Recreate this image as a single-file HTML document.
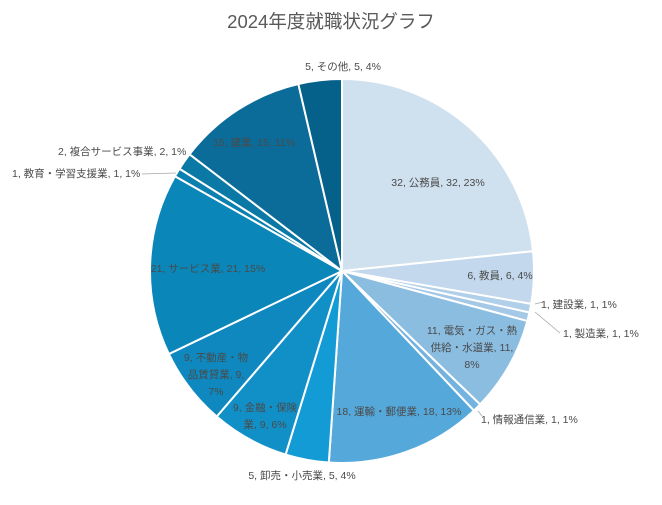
<!DOCTYPE html>
<html><head><meta charset="utf-8"><style>
body{margin:0;background:#fff;width:662px;height:500px;overflow:hidden}
svg text{font-family:"Liberation Sans","Noto Sans CJK JP",sans-serif;fill:#4a4a4a;font-size:10.5px}
</style></head><body>
<svg id="s" width="662" height="500" xmlns="http://www.w3.org/2000/svg">
<text x="331" y="28" text-anchor="middle" style="font-size:18.5px;fill:#595959">2024年度就職状況グラフ</text>
<g id="p"></g>
<g stroke="#a6a6a6" stroke-width="0.8" fill="none">
<polyline points="535,304 543,302"/>
<polyline points="535,312 560,333"/>
<polyline points="478,411 482,416"/>
<polyline points="176,173 142,174"/>
</g>
<text x="343" y="70" text-anchor="middle">5, その他, 5, 4%</text>
<text x="438" y="186" text-anchor="middle">32, 公務員, 32, 23%</text>
<text x="500" y="279" text-anchor="middle">6, 教員, 6, 4%</text>
<text x="541" y="308">1, 建設業, 1, 1%</text>
<text x="563" y="337">1, 製造業, 1, 1%</text>
<text x="472" y="334" text-anchor="middle">11, 電気・ガス・熱</text>
<text x="472" y="351" text-anchor="middle">供給・水道業, 11,</text>
<text x="472" y="368" text-anchor="middle">8%</text>
<text x="481" y="423">1, 情報通信業, 1, 1%</text>
<text x="399" y="415" text-anchor="middle">18, 運輸・郵便業, 18, 13%</text>
<text x="302" y="479" text-anchor="middle">5, 卸売・小売業, 5, 4%</text>
<text x="265" y="411" text-anchor="middle">9, 金融・保険</text>
<text x="265" y="428" text-anchor="middle">業, 9, 6%</text>
<text x="216" y="361" text-anchor="middle">9, 不動産・物</text>
<text x="216" y="378" text-anchor="middle">品賃貸業, 9,</text>
<text x="216" y="395" text-anchor="middle">7%</text>
<text x="208" y="272" text-anchor="middle">21, サービス業, 21, 15%</text>
<text x="12" y="177">1, 教育・学習支援業, 1, 1%</text>
<text x="58" y="155">2, 複合サービス事業, 2, 1%</text>
<text x="254" y="146" text-anchor="middle">15, 建業, 15, 11%</text>
</svg>
<script>
var d=[[32,"#cfe0ef"],[6,"#c3d8ec"],[1,"#b0cfe8"],[1,"#a4c8e6"],[11,"#8bbde1"],[1,"#74b3df"],[18,"#55a8da"],[5,"#129bd5"],[9,"#1190c8"],[9,"#0e88be"],[21,"#0b86b8"],[1,"#0a80b0"],[2,"#0a79a6"],[15,"#0b6c99"],[5,"#05608a"]];
var cx=342,cy=271,r=192,t=0,a=0,g=document.getElementById("p"),h="";
d.forEach(function(x){t+=x[0]});
d.forEach(function(x){var b=a+x[0]/t*2*Math.PI;
var x1=cx+r*Math.sin(a),y1=cy-r*Math.cos(a),x2=cx+r*Math.sin(b),y2=cy-r*Math.cos(b);
h+='<path d="M'+cx+','+cy+'L'+x1+','+y1+'A'+r+','+r+' 0 '+((b-a)>Math.PI?1:0)+' 1 '+x2+','+y2+'Z" fill="'+x[1]+'" stroke="#fff" stroke-width="2"/>';a=b;});
g.innerHTML=h;
</script>
</body></html>
